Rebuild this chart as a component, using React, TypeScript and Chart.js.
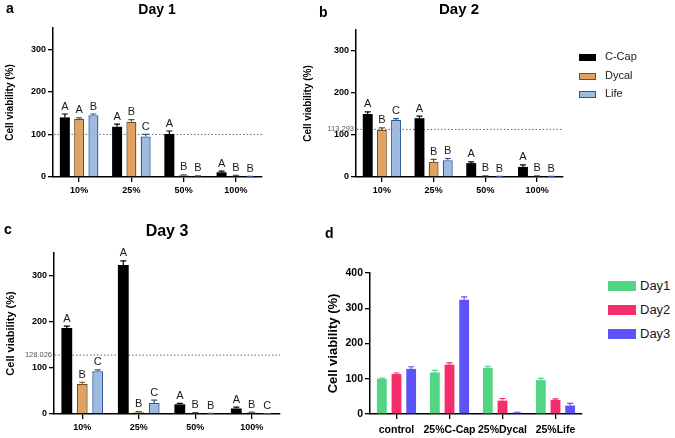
import React, { useEffect, useRef } from 'react';
import { Chart, registerables } from 'chart.js';

Chart.register(...registerables);

const FONT = '"Liberation Sans", Arial, Helvetica, sans-serif';
Chart.defaults.font.family = FONT;
Chart.defaults.color = '#000';

// ---- panels a-c: viability per concentration ----
const CONCENTRATIONS = ['10%', '25%', '50%', '100%'];
const MATERIALS = ['C-Cap', 'Dycal', 'Life'];

const DAY1_CCAP = [140, 118, 101, 11];
const DAY1_DYCAL = [136, 130, 4, 3];
const DAY1_LIFE = [145, 95, 2, 1];
const DAY1_CCAP_ERR = [8, 6, 7, 3];
const DAY1_DYCAL_ERR = [3, 5, 1, 1];
const DAY1_LIFE_ERR = [3, 5, 0.5, 0.5];
const DAY1_CCAP_LETTERS = ['A', 'A', 'A', 'A'];
const DAY1_DYCAL_LETTERS = ['A', 'B', 'B', 'B'];
const DAY1_LIFE_LETTERS = ['B', 'C', 'B', 'B'];

const DAY2_CCAP = [150, 140, 33, 24];
const DAY2_DYCAL = [112, 36, 2, 2];
const DAY2_LIFE = [136, 40, 1, 1];
const DAY2_CCAP_ERR = [5, 5, 3, 5];
const DAY2_DYCAL_ERR = [5, 6, 1, 1];
const DAY2_LIFE_ERR = [3, 4, 0.5, 0.5];
const DAY2_CCAP_LETTERS = ['A', 'A', 'A', 'A'];
const DAY2_DYCAL_LETTERS = ['B', 'B', 'B', 'B'];
const DAY2_LIFE_LETTERS = ['C', 'B', 'B', 'B'];

const DAY3_CCAP = [187, 324, 21, 12];
const DAY3_DYCAL = [65, 4, 2, 3];
const DAY3_LIFE = [93, 24, 1, 0.5];
const DAY3_CCAP_ERR = [4, 9, 2, 3];
const DAY3_DYCAL_ERR = [4, 1, 1, 1];
const DAY3_LIFE_ERR = [3, 6, 0.5, 0.5];
const DAY3_CCAP_LETTERS = ['A', 'A', 'A', 'A'];
const DAY3_DYCAL_LETTERS = ['B', 'B', 'B', 'B'];
const DAY3_LIFE_LETTERS = ['C', 'C', 'B', 'C'];

const CONTROL_DAY1 = 100;
const CONTROL_DAY2 = 113.293;
const CONTROL_DAY3 = 128.026;

// ---- panel d: 25% extracts over time ----
const GROUPS_D = ['control', '25%C-Cap', '25%Dycal', '25%Life'];
const DAYS = ['Day1', 'Day2', 'Day3'];
const D_DAY1 = [100, 118, 131, 96];
const D_DAY2 = [113.3, 140, 38, 40];
const D_DAY3 = [128, 324, 4, 24];
const D_DAY1_ERR = [2, 6, 4, 5];
const D_DAY2_ERR = [3, 5, 6, 3];
const D_DAY3_ERR = [6, 8, 1, 6];

const MATERIAL_FILL = ['#000000', '#e0a25e', '#9dbbe0'];
const MATERIAL_BORDER = ['#000000', '#6b4e2a', '#2d5693'];
const DAY_COLORS = ['#52d683', '#f52d6a', '#5e53f7'];

interface Series {
  label: string;
  data: number[];
  err: number[];
  letters?: string[];
  fill: string;
  border: string;
  borderWidth: number;
}

interface PanelProps {
  left: number;
  top: number;
  width: number;
  height: number;
  labels: string[];
  series: Series[];
  yMax: number;
  yAxisWidth: number;
  xAxisHeight: number;
  padTop: number;
  padRight: number;
  yTickFont: number;
  xTickFont: number;
  yTitleFont: number;
  xTickPadding: number;
  categoryPercentage: number;
  barPercentage: number;
  refValue?: number;
  refLabel?: string;
}

const BarPanel: React.FC<PanelProps> = (p) => {
  const canvasRef = useRef<HTMLCanvasElement>(null);

  useEffect(() => {
    if (!canvasRef.current) return;

    // dotted control line, error bars and significance letters
    const marks = {
      id: 'marks',
      beforeDatasetsDraw(chart: Chart) {
        if (p.refValue === undefined) return;
        const { ctx, chartArea } = chart;
        const y = chart.scales.y.getPixelForValue(p.refValue);
        ctx.save();
        ctx.strokeStyle = '#666';
        ctx.lineWidth = 1;
        ctx.setLineDash([1.5, 2]);
        ctx.beginPath();
        ctx.moveTo(chartArea.left + 1, y);
        ctx.lineTo(chartArea.right, y);
        ctx.stroke();
        if (p.refLabel) {
          ctx.setLineDash([]);
          ctx.fillStyle = '#555';
          ctx.font = `7.5px ${FONT}`;
          ctx.textAlign = 'right';
          ctx.textBaseline = 'middle';
          ctx.fillText(p.refLabel, chartArea.left - 2, y);
        }
        ctx.restore();
      },
      afterDatasetsDraw(chart: Chart) {
        const { ctx } = chart;
        const yScale = chart.scales.y;
        p.series.forEach((s, i) => {
          const meta = chart.getDatasetMeta(i);
          meta.data.forEach((bar: any, j: number) => {
            const yTop = yScale.getPixelForValue(s.data[j] + s.err[j]);
            ctx.save();
            ctx.strokeStyle = s.border;
            ctx.lineWidth = 1.2;
            ctx.beginPath();
            ctx.moveTo(bar.x, bar.y);
            ctx.lineTo(bar.x, yTop);
            ctx.moveTo(bar.x - 3, yTop);
            ctx.lineTo(bar.x + 3, yTop);
            ctx.stroke();
            if (s.letters) {
              ctx.fillStyle = '#1a1a1a';
              ctx.font = `11px ${FONT}`;
              ctx.textAlign = 'center';
              ctx.textBaseline = 'bottom';
              ctx.fillText(s.letters[j], bar.x, yTop - 2);
            }
            ctx.restore();
          });
        });
      },
    };

    const chart = new Chart(canvasRef.current, {
      type: 'bar',
      data: {
        labels: p.labels,
        datasets: p.series.map((s) => ({
          label: s.label,
          data: s.data,
          backgroundColor: s.fill,
          borderColor: s.border,
          borderWidth: s.borderWidth,
          categoryPercentage: p.categoryPercentage,
          barPercentage: p.barPercentage,
        })),
      },
      options: {
        animation: false,
        responsive: true,
        maintainAspectRatio: false,
        layout: { padding: { top: p.padTop, right: p.padRight, left: 0, bottom: 0 } },
        plugins: { legend: { display: false }, tooltip: { enabled: false } },
        scales: {
          x: {
            grid: {
              display: true,
              drawOnChartArea: false,
              drawTicks: true,
              tickLength: 5,
              color: '#000',
              lineWidth: 1.3,
              offset: false,
            },
            border: { color: '#000', width: 1.5 },
            ticks: {
              font: { size: p.xTickFont, weight: 'bold' },
              color: '#000',
              padding: p.xTickPadding,
              maxRotation: 0,
              autoSkip: false,
            },
            afterFit: (scale: any) => {
              scale.height = p.xAxisHeight;
            },
          },
          y: {
            min: 0,
            max: p.yMax,
            grid: {
              display: true,
              drawOnChartArea: false,
              drawTicks: true,
              tickLength: 5,
              color: '#000',
              lineWidth: 1.3,
            },
            border: { color: '#000', width: 1.5 },
            ticks: {
              stepSize: 100,
              font: { size: p.yTickFont, weight: 'bold' },
              color: '#000',
              padding: 2,
            },
            title: {
              display: true,
              text: 'Cell viability (%)',
              font: { size: p.yTitleFont, weight: 'bold' },
              color: '#000',
              padding: { top: 4, bottom: 0 },
            },
            afterBuildTicks: (scale: any) => {
              scale.ticks = scale.ticks.filter((t: any) => t.value % 100 === 0);
            },
            afterFit: (scale: any) => {
              scale.width = p.yAxisWidth;
            },
          },
        },
      } as any,
      plugins: [marks],
    });

    return () => {
      chart.destroy();
    };
  }, []);

  return (
    <div style={{ position: 'absolute', left: p.left, top: p.top, width: p.width, height: p.height }}>
      <canvas ref={canvasRef}></canvas>
    </div>
  );
};

// plain text placed by its cap top
const Label: React.FC<{ text: string; x: number; capTop: number; size: number; center?: boolean }> = ({ text, x, capTop, size, center }) => (
  <div
    style={{
      position: 'absolute',
      left: x,
      top: capTop - 0.13 * size,
      fontSize: size,
      lineHeight: `${size}px`,
      fontWeight: 'bold',
      whiteSpace: 'nowrap',
      transform: center ? 'translateX(-50%)' : undefined,
      color: '#000',
    }}
  >
    {text}
  </div>
);

interface LegendProps {
  names: string[];
  fills: string[];
  borders: string[];
  left: number;
  centers: number[];
  boxW: number;
  boxH: number;
  textLeft: number;
  fontSize: number;
}

const Legend: React.FC<LegendProps> = ({ names, fills, borders, left, centers, boxW, boxH, textLeft, fontSize }) => (
  <>
    {names.map((name, i) => (
      <React.Fragment key={name}>
        <div
          style={{
            position: 'absolute',
            left,
            top: centers[i] - boxH / 2,
            width: boxW,
            height: boxH,
            boxSizing: 'border-box',
            background: fills[i],
            border: `1.2px solid ${borders[i]}`,
          }}
        />
        <div
          style={{
            position: 'absolute',
            left: textLeft,
            top: centers[i] - fontSize * 0.6,
            fontSize,
            lineHeight: `${fontSize * 1.2}px`,
            color: '#1a1a1a',
            whiteSpace: 'nowrap',
          }}
        >
          {name}
        </div>
      </React.Fragment>
    ))}
  </>
);

const materialSeries = (data: number[][], errs: number[][], letters: string[][]): Series[] =>
  MATERIALS.map((m, i) => ({
    label: m,
    data: data[i],
    err: errs[i],
    letters: letters[i],
    fill: MATERIAL_FILL[i],
    border: MATERIAL_BORDER[i],
    borderWidth: i === 0 ? 0 : 1.3,
  }));

const App: React.FC = () => {
  const day1 = materialSeries(
    [DAY1_CCAP, DAY1_DYCAL, DAY1_LIFE],
    [DAY1_CCAP_ERR, DAY1_DYCAL_ERR, DAY1_LIFE_ERR],
    [DAY1_CCAP_LETTERS, DAY1_DYCAL_LETTERS, DAY1_LIFE_LETTERS]
  );
  const day2 = materialSeries(
    [DAY2_CCAP, DAY2_DYCAL, DAY2_LIFE],
    [DAY2_CCAP_ERR, DAY2_DYCAL_ERR, DAY2_LIFE_ERR],
    [DAY2_CCAP_LETTERS, DAY2_DYCAL_LETTERS, DAY2_LIFE_LETTERS]
  );
  const day3 = materialSeries(
    [DAY3_CCAP, DAY3_DYCAL, DAY3_LIFE],
    [DAY3_CCAP_ERR, DAY3_DYCAL_ERR, DAY3_LIFE_ERR],
    [DAY3_CCAP_LETTERS, DAY3_DYCAL_LETTERS, DAY3_LIFE_LETTERS]
  );
  const overTime: Series[] = DAYS.map((d, i) => ({
    label: d,
    data: [D_DAY1, D_DAY2, D_DAY3][i],
    err: [D_DAY1_ERR, D_DAY2_ERR, D_DAY3_ERR][i],
    fill: DAY_COLORS[i],
    border: DAY_COLORS[i],
    borderWidth: 0,
  }));

  const common = {
    labels: CONCENTRATIONS,
    yMax: 350,
    yTickFont: 9,
    xTickFont: 9,
    xTickPadding: 3,
    categoryPercentage: 0.82,
    barPercentage: 0.7,
  };

  return (
    <div
      style={{
        position: 'absolute',
        left: 0,
        top: 0,
        width: 675,
        height: 438,
        background: '#fff',
        fontFamily: FONT,
        overflow: 'hidden',
      }}
    >
      <BarPanel
        {...common}
        left={0}
        top={0}
        width={290}
        height={200}
        series={day1}
        yAxisWidth={53}
        xAxisHeight={23}
        padTop={28}
        padRight={28}
        yTitleFont={10}
        refValue={CONTROL_DAY1}
      />
      <BarPanel
        {...common}
        left={298}
        top={0}
        width={290}
        height={200}
        series={day2}
        yAxisWidth={58}
        xAxisHeight={23}
        padTop={30}
        padRight={25}
        yTitleFont={10}
        refValue={CONTROL_DAY2}
        refLabel={String(CONTROL_DAY2)}
      />
      <BarPanel
        {...common}
        left={0}
        top={210}
        width={300}
        height={228}
        series={day3}
        yAxisWidth={54}
        xAxisHeight={24}
        padTop={43}
        padRight={20}
        yTitleFont={11}
        refValue={CONTROL_DAY3}
        refLabel={String(CONTROL_DAY3)}
      />
      <BarPanel
        left={322}
        top={210}
        width={278}
        height={228}
        labels={GROUPS_D}
        series={overTime}
        yMax={400}
        yAxisWidth={48}
        xAxisHeight={24}
        padTop={63}
        padRight={18}
        yTickFont={10.5}
        xTickFont={10.5}
        xTickPadding={5}
        yTitleFont={13}
        categoryPercentage={0.83}
        barPercentage={0.67}
      />

      <Label text="a" x={6} capTop={3} size={14} />
      <Label text="b" x={319} capTop={7} size={14} />
      <Label text="c" x={4} capTop={224} size={14} />
      <Label text="d" x={325} capTop={228} size={14} />

      <Label text="Day 1" x={157} capTop={4} size={14} center />
      <Label text="Day 2" x={459} capTop={3} size={15} center />
      <Label text="Day 3" x={167} capTop={225} size={16} center />

      <Legend
        names={MATERIALS}
        fills={MATERIAL_FILL}
        borders={MATERIAL_BORDER}
        left={579}
        centers={[57, 76, 94]}
        boxW={17}
        boxH={7}
        textLeft={605}
        fontSize={11}
      />
      <Legend
        names={DAYS}
        fills={DAY_COLORS}
        borders={DAY_COLORS}
        left={608}
        centers={[286, 310, 334]}
        boxW={28}
        boxH={10}
        textLeft={640}
        fontSize={13}
      />
    </div>
  );
};

export default App;
